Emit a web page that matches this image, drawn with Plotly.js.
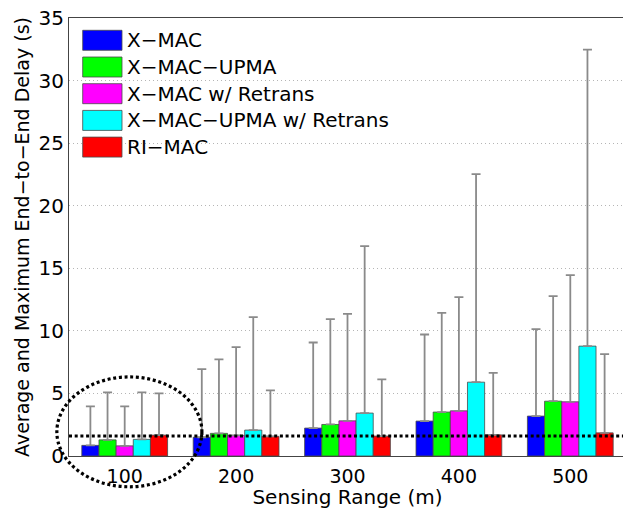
<!DOCTYPE html>
<html>
<head>
<meta charset="utf-8">
<script src="https://cdn.plot.ly/plotly-3.0.1.min.js"></script>
<style>
  html, body { margin: 0; padding: 0; background: #fff; overflow: hidden; }
  #chart { width: 630px; height: 509px; }
</style>
</head>
<body>
<div id="chart"></div>
<script>
// Sensing ranges (m) on the x axis
const categories = ['100', '200', '300', '400', '500'];

// Protocol names and bar colours
const seriesNames = ['X\u2212MAC', 'X\u2212MAC\u2212UPMA', 'X\u2212MAC w/ Retrans', 'X\u2212MAC\u2212UPMA w/ Retrans', 'RI\u2212MAC'];
const seriesColors = ['#0000ff', '#00ff00', '#ff00ff', '#00ffff', '#ff0000'];

// Average end-to-end delay (s)
const avgXmac            = [0.85, 1.50, 2.23, 2.79, 3.19];
const avgXmacUpma        = [1.29, 1.81, 2.52, 3.51, 4.38];
const avgXmacRetrans     = [0.81, 1.65, 2.81, 3.61, 4.33];
const avgXmacUpmaRetrans = [1.33, 2.07, 3.43, 5.90, 8.78];
const avgRiMac           = [1.67, 1.57, 1.59, 1.69, 1.85];

// Maximum end-to-end delay (s)
const maxXmac            = [3.96, 6.94, 9.07, 9.71, 10.14];
const maxXmacUpma        = [5.08, 7.72, 10.94, 11.44, 12.77];
const maxXmacRetrans     = [3.96, 8.70, 11.36, 12.69, 14.45];
const maxXmacUpmaRetrans = [5.08, 11.09, 16.77, 22.52, 32.48];
const maxRiMac           = [5.00, 5.24, 6.12, 6.65, 8.14];

// Reference delay level drawn as a dotted horizontal line (s)
const referenceDelay = 1.6;

const avgSeries = [avgXmac, avgXmacUpma, avgXmacRetrans, avgXmacUpmaRetrans, avgRiMac];
const maxSeries = [maxXmac, maxXmacUpma, maxXmacRetrans, maxXmacUpmaRetrans, maxRiMac];

const FONT = 'DejaVu Sans, Liberation Sans, Arial, sans-serif';
const W = 630, H = 509;
const M = { l: 69, r: 4, t: 18, b: 53 };
const plotW = W - M.l - M.r, plotH = H - M.t - M.b;
const xRange = [-0.5, categories.length - 0.5];
const yRange = [0, 35];

const traces = avgSeries.map((avg, i) => ({
  type: 'bar',
  name: seriesNames[i],
  x: categories,
  y: avg,
  marker: { color: seriesColors[i], line: { color: '#4a4a4a', width: 0.8 } },
  error_y: {
    type: 'data',
    symmetric: false,
    array: maxSeries[i].map((m, k) => m - avg[k]),
    arrayminus: avg.map(() => 0),
    color: '#8a8a8a',
    thickness: 1.8,
    width: 4.5
  },
  showlegend: false,
  hoverinfo: 'skip'
}));

// helpers: data -> paper coordinates
const px = v => (v - xRange[0]) / (xRange[1] - xRange[0]);
const py = v => (v - yRange[0]) / (yRange[1] - yRange[0]);

const shapes = [];
const annotations = [];

// dotted reference line across the whole plot
shapes.push({
  type: 'line', xref: 'paper', yref: 'y',
  x0: 0, x1: 1, y0: referenceDelay, y1: referenceDelay,
  line: { color: '#000', width: 3.2, dash: '3px,2.7px' },
  layer: 'above'
});

// dotted ellipse highlighting the 100 m group
const focus = { cx: 0.042, cy: 1.93, rx: 0.651, ry: 4.39 };
shapes.push({
  type: 'circle', xref: 'paper', yref: 'paper',
  x0: px(focus.cx - focus.rx), x1: px(focus.cx + focus.rx),
  y0: py(focus.cy - focus.ry), y1: py(focus.cy + focus.ry),
  line: { color: '#000', width: 3.2, dash: '3px,2.7px' },
  layer: 'above'
});

// legend: swatches and labels in the top-left corner
const legend = { left: 13.7, swatchW: 39.3, swatchH: 20, top: 22.3, rowH: 26.7, textGap: 3 };
seriesNames.forEach((name, i) => {
  const cy = legend.top + i * legend.rowH;          // px from top of plot area
  const x0 = legend.left / plotW, x1 = (legend.left + legend.swatchW) / plotW;
  const y0 = 1 - (cy + legend.swatchH / 2) / plotH, y1 = 1 - (cy - legend.swatchH / 2) / plotH;
  shapes.push({
    type: 'rect', xref: 'paper', yref: 'paper', x0, x1, y0, y1,
    fillcolor: seriesColors[i], line: { color: '#4a4a4a', width: 0.8 }, layer: 'above'
  });
  annotations.push({
    xref: 'paper', yref: 'paper',
    x: (legend.left + legend.swatchW + legend.textGap) / plotW, y: 1 - cy / plotH,
    xanchor: 'left', yanchor: 'middle', showarrow: false,
    text: name, font: { family: FONT, size: 20, color: '#000' }
  });
});

const layout = {
  width: W, height: H,
  margin: M,
  paper_bgcolor: '#fff', plot_bgcolor: '#fff',
  font: { family: FONT, size: 20, color: '#000' },
  barmode: 'group',
  bargap: 0.23,
  bargroupgap: 0,
  xaxis: {
    type: 'category',
    range: xRange,
    showline: true, linecolor: '#444', linewidth: 1, mirror: true,
    showgrid: false, zeroline: false,
    ticks: 'outside', ticklen: 3, tickcolor: 'rgba(0,0,0,0)',
    tickfont: { family: FONT, size: 19 },
    title: { text: 'Sensing Range (m)', font: { family: FONT, size: 20 }, standoff: 3 }
  },
  yaxis: {
    range: yRange,
    dtick: 5,
    showline: true, linecolor: '#444', linewidth: 1, mirror: true,
    showgrid: true, gridcolor: '#b5b5b5', gridwidth: 1, griddash: '1px,3px',
    zeroline: false, ticks: '',
    tickfont: { family: FONT, size: 20 },
    title: { text: 'Average and Maximum End\u2212to\u2212End Delay (s)', font: { family: FONT, size: 19 }, standoff: 3 }
  },
  shapes, annotations
};

Plotly.newPlot('chart', traces, layout, { displayModeBar: false, staticPlot: true });
</script>
</body>
</html>
